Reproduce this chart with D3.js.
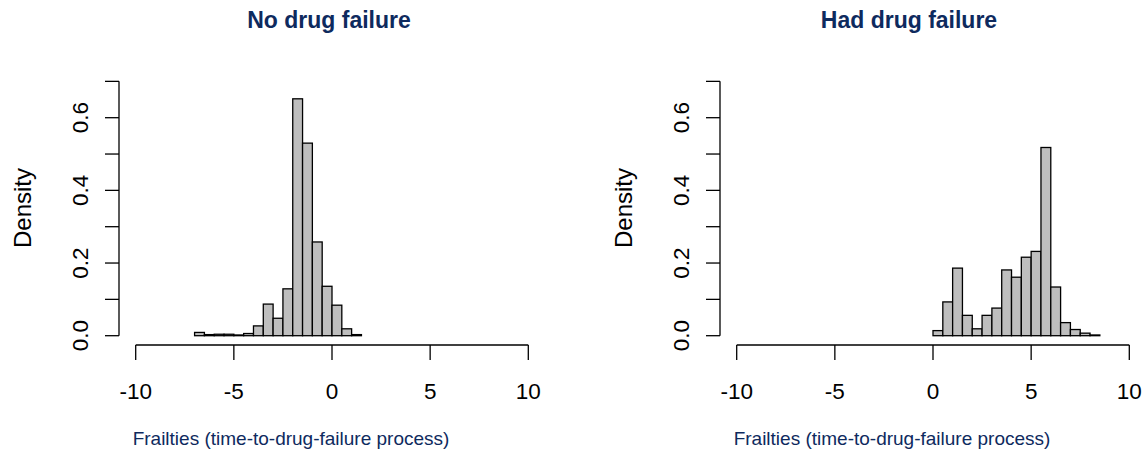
<!DOCTYPE html>
<html>
<head>
<meta charset="utf-8">
<script src="https://cdn.jsdelivr.net/npm/d3@7"></script>
<style>
  body { margin: 0; background: #fff; }
  svg text { font-family: "Liberation Sans", Arial, sans-serif; }
</style>
</head>
<body>
<div id="chart"></div>
<script>
'use strict';

// Histogram bins (width 0.5), density per bin
const leftStart = -7;
const leftDensity = [0.009, 0.003, 0.004, 0.004, 0.002, 0.006, 0.027, 0.087, 0.048, 0.129,
                     0.652, 0.530, 0.258, 0.136, 0.084, 0.019, 0.003];
const rightStart = 0;
const rightDensity = [0.014, 0.093, 0.186, 0.056, 0.019, 0.056, 0.076, 0.181, 0.161, 0.216,
                      0.232, 0.518, 0.134, 0.036, 0.017, 0.007, 0.002];
const binWidth = 0.5;
const xTicks = [-10, -5, 0, 5, 10];
const yTicks = [0, 0.1, 0.2, 0.3, 0.4, 0.5, 0.6, 0.7];
const yLabels = [0, 0.2, 0.4, 0.6];
const titles = ['No drug failure', 'Had drug failure'];
const xLabel = 'Frailties (time-to-drug-failure process)';

const navy = '#0e2a5e';
const svg = d3.select('#chart').append('svg')
  .attr('width', 1146)
  .attr('height', 452);

// One panel: offset dx, with its own data
function drawPanel(dx, start, density, title, titleX) {
  const g = svg.append('g').attr('transform', `translate(${dx},0)`);
  const x = d3.scaleLinear().domain([-10, 10]).range([135.7, 528.3]);
  const y = d3.scaleLinear().domain([0, 0.6]).range([335.7, 117.7]);

  const bins = density.map((d, i) => ({ x0: start + i * binWidth, x1: start + (i + 1) * binWidth, d: d }));

  // Bars
  g.selectAll('rect.bar')
    .data(bins)
    .enter().append('rect')
    .attr('class', 'bar')
    .attr('x', b => x(b.x0))
    .attr('width', b => x(b.x1) - x(b.x0))
    .attr('y', b => y(b.d))
    .attr('height', b => y(0) - y(b.d))
    .style('fill', '#bebebe')
    .style('stroke', '#000')
    .style('stroke-width', 1.3);

  // X axis
  const xAxis = g.append('g').attr('transform', 'translate(0,345)');
  xAxis.append('line')
    .attr('x1', x(-10)).attr('x2', x(10))
    .style('stroke', '#000').style('stroke-width', 1.3);
  xAxis.selectAll('line.tick')
    .data(xTicks)
    .enter().append('line')
    .attr('class', 'tick')
    .attr('x1', d => x(d)).attr('x2', d => x(d))
    .attr('y1', 0).attr('y2', 15)
    .style('stroke', '#000').style('stroke-width', 1.3);
  xAxis.selectAll('text')
    .data(xTicks)
    .enter().append('text')
    .attr('x', d => x(d))
    .attr('y', 54)
    .attr('text-anchor', 'middle')
    .style('font-size', '22.5px')
    .text(d => d);

  // Y axis
  const yAxis = g.append('g').attr('transform', 'translate(119,0)');
  yAxis.append('line')
    .attr('y1', y(0)).attr('y2', y(0.7))
    .style('stroke', '#000').style('stroke-width', 1.3);
  yAxis.selectAll('line.tick')
    .data(yTicks)
    .enter().append('line')
    .attr('class', 'tick')
    .attr('y1', d => y(d)).attr('y2', d => y(d))
    .attr('x1', 0).attr('x2', -14)
    .style('stroke', '#000').style('stroke-width', 1.3);
  yAxis.selectAll('text')
    .data(yLabels)
    .enter().append('text')
    .attr('transform', d => `translate(-31,${y(d)}) rotate(-90)`)
    .attr('text-anchor', 'middle')
    .style('font-size', '22.5px')
    .text(d => d.toFixed(1));

  // Labels
  g.append('text')
    .attr('transform', 'translate(31,208) rotate(-90)')
    .attr('text-anchor', 'middle')
    .style('font-size', '24px')
    .text('Density');
  g.append('text')
    .attr('x', 291)
    .attr('y', 445)
    .attr('text-anchor', 'middle')
    .style('font-size', '19px')
    .style('fill', navy)
    .text(xLabel);
  g.append('text')
    .attr('x', titleX)
    .attr('y', 28)
    .attr('text-anchor', 'middle')
    .style('font-size', '23px')
    .style('font-weight', 'bold')
    .style('fill', navy)
    .text(title);
}

drawPanel(0, leftStart, leftDensity, titles[0], 329);
drawPanel(601, rightStart, rightDensity, titles[1], 909 - 601);
</script>
</body>
</html>
